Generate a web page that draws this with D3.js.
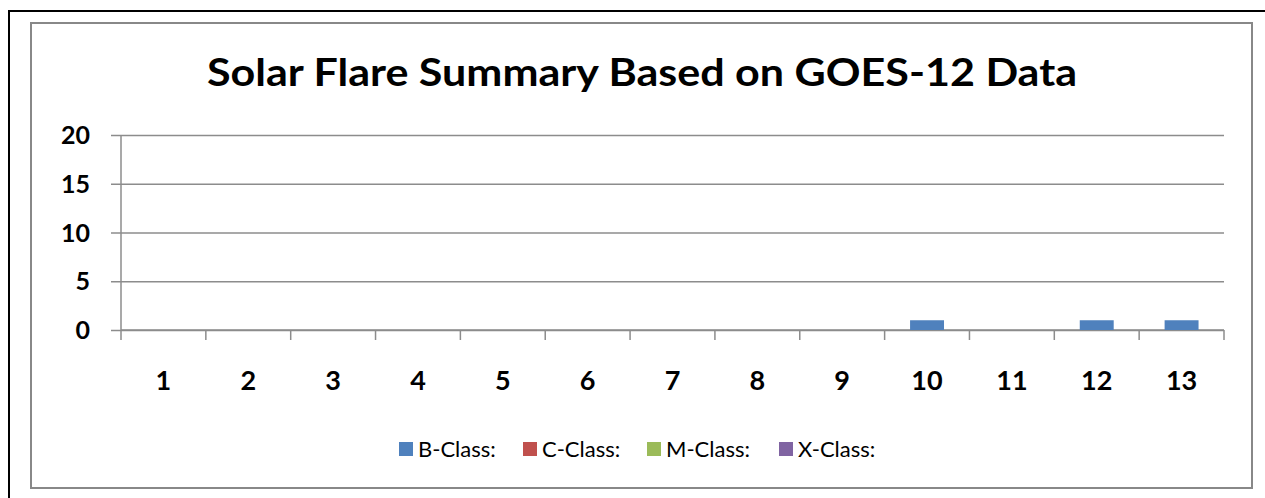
<!DOCTYPE html>
<html>
<head>
<meta charset="utf-8">
<script src="https://cdn.jsdelivr.net/npm/d3@7"></script>
<style>
body { margin: 0; background: #fff; overflow: hidden; }
svg text { font-family: Lato, "Open Sans", sans-serif; fill: #000; }
</style>
</head>
<body>
<div id="chart"></div>
<script>
// data
const days = ["1","2","3","4","5","6","7","8","9","10","11","12","13"];
const bClass = [0,0,0,0,0,0,0,0,0,1,0,1,1];
const cClass = [0,0,0,0,0,0,0,0,0,0,0,0,0];
const mClass = [0,0,0,0,0,0,0,0,0,0,0,0,0];
const xClass = [0,0,0,0,0,0,0,0,0,0,0,0,0];
const seriesNames = ["B-Class:", "C-Class:", "M-Class:", "X-Class:"];
const seriesColors = ["#4f81bd", "#c0504d", "#9bbb59", "#8064a2"];
const yTicks = [0,5,10,15,20];

const w = 1265, h = 498;
const svg = d3.select("#chart").append("svg")
  .attr("width", w).attr("height", h);

// outer black frame (runs off the page on right / bottom)
svg.append("rect")
  .attr("x", 9).attr("y", 11)
  .attr("width", 1300).attr("height", 520)
  .attr("fill", "none").attr("stroke", "#000").attr("stroke-width", 2);

// chart area border
svg.append("rect")
  .attr("x", 31).attr("y", 23)
  .attr("width", 1221).attr("height", 465)
  .attr("fill", "#fff").attr("stroke", "#888").attr("stroke-width", 2);

// title
svg.append("text")
  .attr("x", 642).attr("y", 86)
  .attr("text-anchor", "middle")
  .attr("font-size", 38).attr("font-weight", "bold")
  .attr("textLength", 870).attr("lengthAdjust", "spacingAndGlyphs")
  .text("Solar Flare Summary Based on GOES-12 Data");

// scales
const pLeft = 121, pRight = 1224, pTop = 135, pBottom = 330;
const x = d3.scaleBand().domain(days).range([pLeft, pRight]).padding(0);
const y = d3.scaleLinear().domain([0, 20]).range([pBottom, pTop]);

// gridlines + y ticks
const yAxis = d3.axisLeft(y).tickValues(yTicks).tickSize(-(pRight - pLeft)).tickFormat("");
const gy = svg.append("g").attr("transform", `translate(${pLeft},0)`).call(yAxis);
gy.select(".domain").remove();
gy.selectAll(".tick line")
  .attr("x1", -10)
  .attr("stroke", "#8c8c8c").attr("stroke-width", 1.5);

// y labels
svg.append("g").selectAll("text")
  .data(yTicks).enter().append("text")
  .attr("x", 90).attr("y", d => y(d) + 9)
  .attr("text-anchor", "end")
  .attr("font-size", 25).attr("font-weight", "bold")
  .text(d => d);

// y axis line
svg.append("line")
  .attr("x1", pLeft).attr("x2", pLeft)
  .attr("y1", pTop).attr("y2", pBottom + 10)
  .attr("stroke", "#8c8c8c").attr("stroke-width", 1.5);

// x axis line + ticks at category boundaries
svg.append("line")
  .attr("x1", pLeft).attr("x2", pRight)
  .attr("y1", pBottom).attr("y2", pBottom)
  .attr("stroke", "#8c8c8c").attr("stroke-width", 1.5);
svg.append("g").selectAll("line")
  .data(days.slice(1).concat(["end"])).enter().append("line")
  .attr("x1", d => d === "end" ? pRight : x(d))
  .attr("x2", d => d === "end" ? pRight : x(d))
  .attr("y1", pBottom).attr("y2", pBottom + 10)
  .attr("stroke", "#8c8c8c").attr("stroke-width", 1.5);

// x labels
svg.append("g").selectAll("text")
  .data(days).enter().append("text")
  .attr("x", d => x(d) + x.bandwidth() / 2)
  .attr("y", 390)
  .attr("text-anchor", "middle")
  .attr("font-size", 27).attr("font-weight", "bold")
  .text(d => d);

// stacked columns
const rows = days.map((d, i) => ({ day: d, b: bClass[i], c: cClass[i], m: mClass[i], x: xClass[i] }));
const keys = ["b", "c", "m", "x"];
const stacked = d3.stack().keys(keys)(rows);
const barW = x.bandwidth() * 0.4;

svg.append("g").selectAll("g")
  .data(stacked).enter().append("g")
  .attr("fill", (d, i) => seriesColors[i])
  .selectAll("rect")
  .data(d => d.filter(v => v[1] - v[0] > 0)).enter().append("rect")
  .attr("x", d => x(d.data.day) + (x.bandwidth() - barW) / 2)
  .attr("y", d => y(d[1]))
  .attr("width", barW)
  .attr("height", d => y(d[0]) - y(d[1]));

// legend
const legendX = [399, 523, 647, 779];
const lg = svg.append("g").selectAll("g")
  .data(seriesNames).enter().append("g")
  .attr("transform", (d, i) => `translate(${legendX[i]},442)`);
lg.append("rect")
  .attr("width", 14).attr("height", 14)
  .attr("fill", (d, i) => seriesColors[i]);
lg.append("text")
  .attr("x", 19).attr("y", 15)
  .attr("font-size", 22)
  .attr("fill", "#222")
  .text(d => d);
</script>
</body>
</html>
